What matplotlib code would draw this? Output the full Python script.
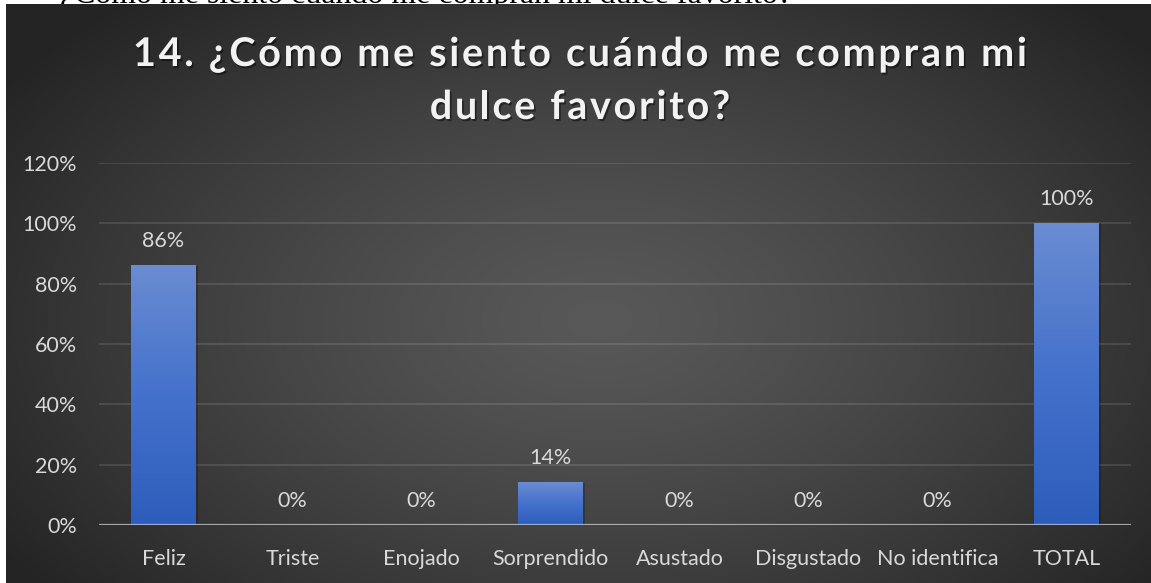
import numpy as np
import matplotlib
matplotlib.use("Agg")
import matplotlib.pyplot as plt
from matplotlib import font_manager
from matplotlib.ft2font import FT2Font
from matplotlib.colors import LinearSegmentedColormap
from matplotlib.patches import Rectangle
import matplotlib.patheffects as pe

# ---------------- data ----------------
categories = ["Feliz", "Triste", "Enojado", "Sorprendido", "Asustado",
              "Disgustado", "No identifica", "TOTAL"]
values = [0.86, 0.0, 0.0, 0.14, 0.0, 0.0, 0.0, 1.00]
value_labels = ["86%", "0%", "0%", "14%", "0%", "0%", "0%", "100%"]
yticks = [0.0, 0.2, 0.4, 0.6, 0.8, 1.0, 1.2]
ytick_labels = ["0%", "20%", "40%", "60%", "80%", "100%", "120%"]
title_lines = ["14. ¿Cómo me siento cuándo me compran mi", "dulce favorito?"]
doc_text = "¿Cómo me siento cuándo me compran mi dulce favorito?"

# ---------------- figure ----------------
W, H, DPI = 1151, 583, 100
fig = plt.figure(figsize=(W / DPI, H / DPI), dpi=DPI, facecolor="white")
renderer = fig.canvas.get_renderer()

# cut-off document text above the chart (white strip)
fp_doc = font_manager.FontProperties(family="Liberation Serif", size=20)
w20, _, _ = renderer.get_text_width_height_descent(doc_text, fp_doc, ismath=False)
doc_fs = 20 * 730 / w20
fig.text(60 / W, 1 - 3.5 / H, doc_text, family="Liberation Serif",
         fontsize=doc_fs, ha="left", va="baseline", color="black", zorder=0)

# radial gradient background
bg = fig.add_axes([6 / W, 0, 1 - 6 / W, 1 - 4 / H])
bg.set_zorder(1)
bg.axis("off")
xs = np.linspace(6, W, 400)
ys = np.linspace(4, H, 220)
X, Y = np.meshgrid(xs, ys)
R = np.sqrt(((X - 600) / 720) ** 2 + ((Y - 320) / 430) ** 2)
R = np.clip(R, 0, 1)
center_c, edge_c = 0x58 / 255, 0x24 / 255
G = center_c + (edge_c - center_c) * R ** 1.3
bg.imshow(np.dstack([G, G, G]), extent=[6, W, H, 4], aspect="auto",
          origin="upper", interpolation="bilinear")
bg.set_xlim(6, W)
bg.set_ylim(H, 4)

# main axes
x0, x1 = 99, 1131
y0, y1 = 525, 163
ax = fig.add_axes([x0 / W, (H - y0) / H, (x1 - x0) / W, (y0 - y1) / H])
ax.set_zorder(2)
ax.patch.set_alpha(0)

LABEL_FS = 15.5
bar_cmap = LinearSegmentedColormap.from_list("bar", ["#2d5dbc", "#4471cb", "#6a8cd2"])
grad = np.linspace(0, 1, 256).reshape(-1, 1)
bw = 0.5
for i, v in enumerate(values):
    if v > 0:
        ax.add_patch(Rectangle((i - bw / 2 + 0.015, 0), bw, v, color="black",
                               alpha=0.22, zorder=1.5, lw=0))
        ax.imshow(grad, extent=[i - bw / 2, i + bw / 2, 0, v], aspect="auto",
                  cmap=bar_cmap, origin="lower", zorder=2, interpolation="bilinear")

for i, (v, lbl) in enumerate(zip(values, value_labels)):
    ax.annotate(lbl, (i, v), xytext=(0, 17.5), textcoords="offset points",
                ha="center", va="center", color="#d9d9d9", fontsize=LABEL_FS,
                family="Lato", zorder=4)

ax.axhline(0, color="#d0d0d0", alpha=0.7, lw=1.6, zorder=3)
ax.set_xlim(-0.5, len(categories) - 0.5)
ax.set_ylim(0, 1.2)
ax.set_yticks(yticks)
ax.set_yticklabels(ytick_labels)
ax.set_xticks(range(len(categories)))
ax.set_xticklabels(categories)
for lab in ax.get_xticklabels() + ax.get_yticklabels():
    lab.set_family("Lato")
    lab.set_fontsize(LABEL_FS)
    lab.set_color("#d9d9d9")
ax.tick_params(axis="both", length=0)
ax.tick_params(axis="y", pad=16)
ax.tick_params(axis="x", pad=17)
ax.yaxis.grid(True, color="white", alpha=0.12, lw=1.3)
ax.set_axisbelow(True)
for s in ax.spines.values():
    s.set_visible(False)

# letter-spaced title
fp_title = font_manager.FontProperties(family="Lato", weight="bold")
font = FT2Font(font_manager.findfont(fp_title))
title_size = 28.5


def advances(s, size):
    font.set_size(size, DPI)
    return [font.load_char(ord(c)).linearHoriAdvance / 65536 for c in s]


adv1 = advances(title_lines[0], title_size)
spacing = (1027 - 133 - sum(adv1)) / (len(title_lines[0]) - 1)
shadow = [pe.SimplePatchShadow(offset=(1.2, -1.5), shadow_rgbFace="black", alpha=0.45),
          pe.Normal()]
for line, base in zip(title_lines, [66, 119]):
    adv = advances(line, title_size)
    total = sum(adv) + spacing * (len(line) - 1)
    x = 580 - total / 2
    for c, a in zip(line, adv):
        if c != " ":
            fig.text(x / W, 1 - base / H, c, ha="left", va="baseline",
                     fontproperties=fp_title, fontsize=title_size,
                     color="#f2f2f2", zorder=5, path_effects=shadow)
        x += a + spacing

fig.savefig("out.png", dpi=DPI, facecolor="white")
